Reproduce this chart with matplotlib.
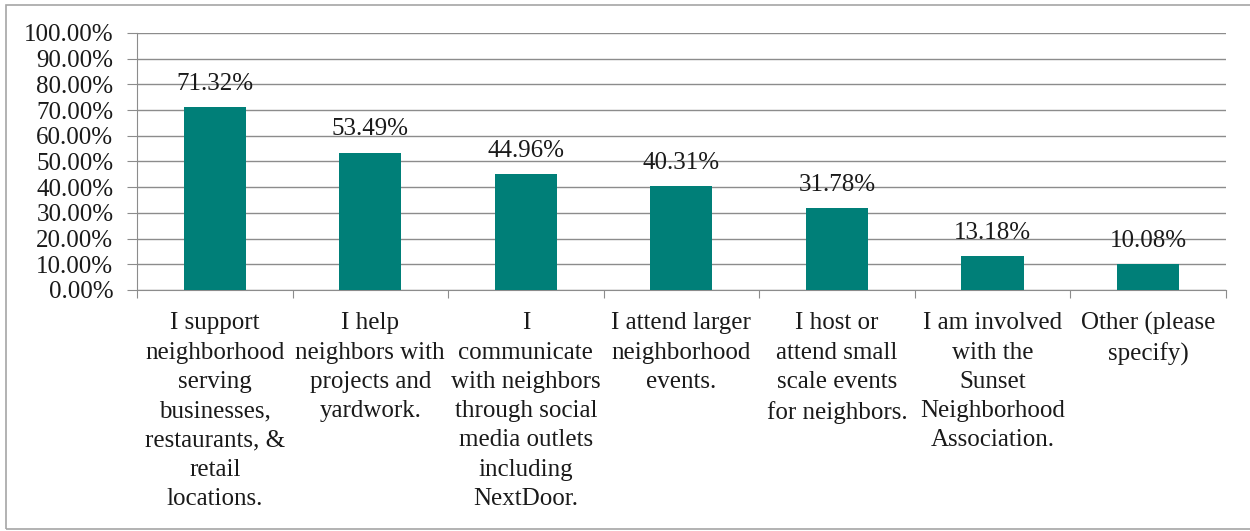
import matplotlib.pyplot as plt
import matplotlib.patches as mpatches
import numpy as np

categories = [
    "I support\nneighborhood\nserving\nbusinesses,\nrestaurants, &\nretail\nlocations.",
    "I help\nneighbors with\nprojects and\nyardwork.",
    "I\ncommunicate\nwith neighbors\nthrough social\nmedia outlets\nincluding\nNextDoor.",
    "I attend larger\nneighborhood\nevents.",
    "I host or\nattend small\nscale events\nfor neighbors.",
    "I am involved\nwith the\nSunset\nNeighborhood\nAssociation.",
    "Other (please\nspecify)",
]
values = [71.32, 53.49, 44.96, 40.31, 31.78, 13.18, 10.08]
y_ticks = np.arange(0, 101, 10)

plt.rcParams['font.family'] = ['Liberation Serif', 'DejaVu Serif']

fig = plt.figure(figsize=(12.5, 5.31), dpi=100)
ax = fig.add_axes([0.1096, 0.4539, 0.871, 0.484])

# outer chart border
fig.patches.append(mpatches.Rectangle((6 / 1250, 2 / 531), 1.0, 524 / 531, transform=fig.transFigure,
                                      fill=False, edgecolor='#a6a6a6', linewidth=1.2))

fs = 18
x = np.arange(len(values))
ax.bar(x, values, width=0.4, color='#007f78', zorder=3)
for xi, v in zip(x, values):
    ax.text(xi, v + 9, f"{v:.2f}%", ha='center', va='center', fontsize=fs, color='#1a1a1a', zorder=4)

ax.set_xlim(-0.5, len(values) - 0.5)
ax.set_ylim(0, 100)
ax.set_yticks(y_ticks)
ax.set_yticklabels([f"{t:.2f}%" for t in y_ticks], fontsize=fs, color='#1a1a1a')
ax.yaxis.grid(True, color='#8c8c8c', linewidth=1.0, zorder=0)

ax.set_xticks(np.arange(-0.5, len(values), 1.0))
ax.set_xticklabels([])
ax.set_xticks(x, minor=True)
ax.set_xticklabels(categories, minor=True, fontsize=fs, color='#1a1a1a', linespacing=1.43, va='top')
ax.tick_params(axis='x', which='minor', length=0, pad=16)
ax.tick_params(axis='x', which='major', length=6, color='#8c8c8c', direction='out')
ax.tick_params(axis='y', length=7, color='#8c8c8c', direction='out', pad=10)

for side in ['top', 'right']:
    ax.spines[side].set_visible(False)
ax.spines['left'].set_color('#8c8c8c')
ax.spines['bottom'].set_color('#8c8c8c')

fig.savefig('out.png', dpi=100)
